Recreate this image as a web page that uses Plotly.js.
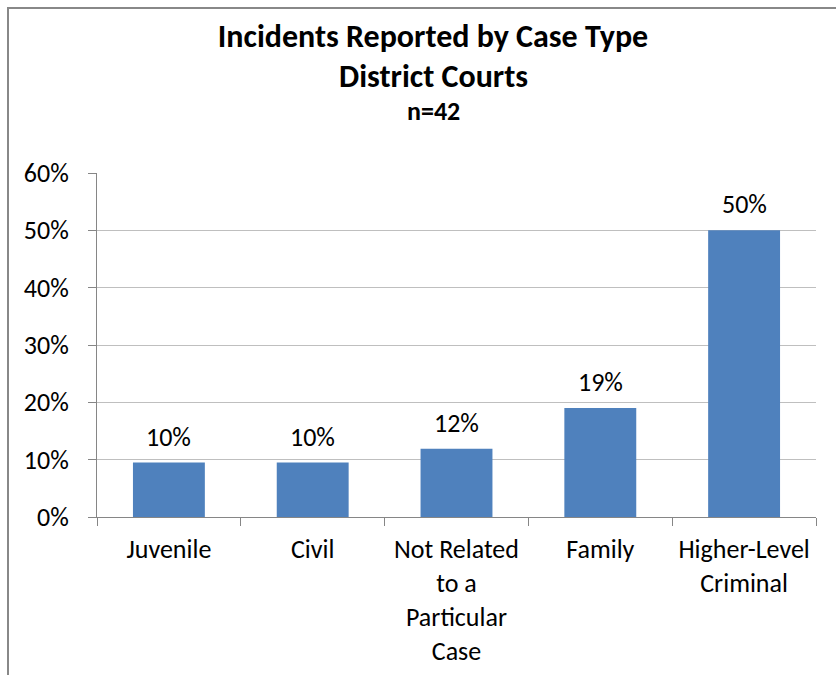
<!DOCTYPE html>
<html>
<head>
<meta charset="utf-8">
<script src="https://cdn.plot.ly/plotly-3.0.1.min.js"></script>
<style>
  html, body { margin: 0; padding: 0; background: #fff; }
  #wrap { position: relative; width: 836px; height: 675px; overflow: hidden; }
  #chart { position: absolute; left: 0; top: 0; width: 836px; height: 675px; }
  #frame { position: absolute; left: 7px; top: 7px; width: 1000px; height: 1000px;
           border-left: 2px solid #888; border-top: 2px solid #888; pointer-events: none; }
</style>
</head>
<body>
<div id="wrap">
  <div id="chart"></div>
  <div id="frame"></div>
</div>
<script>
const categories = ["Juvenile", "Civil", "Not Related<br>to a<br>Particular<br>Case", "Family", "Higher-Level<br>Criminal"];
const values = [0.095, 0.095, 0.119, 0.19, 0.50];
const valueLabels = ["10%", "10%", "12%", "19%", "50%"];
const titleLine1 = "Incidents Reported by Case Type";
const titleLine2 = "District Courts";
const titleLine3 = "n=42";
const yTickVals = [0, 0.1, 0.2, 0.3, 0.4, 0.5, 0.6];

const FONT = "Carlito, Calibri, Lato, sans-serif";
const TSIZE = 26;
const HSIZE = 32;

const trace = {
  type: "bar",
  x: categories,
  y: values,
  marker: { color: "#4F81BD" },
  hoverinfo: "skip"
};

const plotH = 675 - 173 - 158;
function py(pix) { return (517 - pix) / plotH; }
const titleXPaper = (433 - 97) / 719;

const annotations = [
  { text: "<b>" + titleLine2 + "</b>", xref: "paper", yref: "paper", x: titleXPaper, xanchor: "center",
    y: py(76.5), yanchor: "middle", showarrow: false, font: { family: FONT, size: HSIZE, color: "#000" } },
  { text: "<b>" + titleLine3 + "</b>", xref: "paper", yref: "paper", x: titleXPaper, xanchor: "center",
    y: py(111), yanchor: "middle", showarrow: false, font: { family: FONT, size: 26, color: "#000" } }
];
categories.forEach((c, i) => {
  annotations.push({
    x: c, y: values[i], xref: "x", yref: "y",
    text: valueLabels[i], showarrow: false,
    xanchor: "center", yanchor: "bottom", yshift: 8,
    font: { family: FONT, size: TSIZE, color: "#000" }
  });
});

const layout = {
  width: 836, height: 675,
  margin: { l: 97, r: 20, t: 173, b: 158, pad: 0 },
  paper_bgcolor: "#fff", plot_bgcolor: "#fff",
  showlegend: false,
  bargap: 0.5,
  font: { family: FONT, size: TSIZE, color: "#000" },
  title: {
    text: "<b>" + titleLine1 + "</b>",
    font: { family: FONT, size: HSIZE, color: "#000" },
    x: 433 / 836, xanchor: "center", xref: "container",
    y: 1 - 35.5 / 675, yanchor: "middle", yref: "container"
  },
  annotations: annotations,
  xaxis: {
    type: "category",
    showline: true, linecolor: "#868686", linewidth: 1,
    ticks: "outside", tickson: "boundaries", ticklen: 8, tickcolor: "#868686", tickwidth: 1,
    showgrid: false,
    tickfont: { family: FONT, size: TSIZE, color: "#000" },
    ticklabelstandoff: 9,
    fixedrange: true
  },
  yaxis: {
    range: [0, 0.6],
    tickvals: yTickVals,
    tickformat: ".0%",
    showline: true, linecolor: "#868686", linewidth: 1,
    ticks: "outside", ticklen: 8, tickcolor: "#868686", tickwidth: 1,
    showgrid: true, gridcolor: "#BFBFBF", gridwidth: 1,
    zeroline: false,
    tickfont: { family: FONT, size: TSIZE, color: "#000" },
    ticklabelstandoff: 14,
    fixedrange: true
  }
};

Plotly.newPlot("chart", [trace], layout, { staticPlot: true, displayModeBar: false });
</script>
</body>
</html>
